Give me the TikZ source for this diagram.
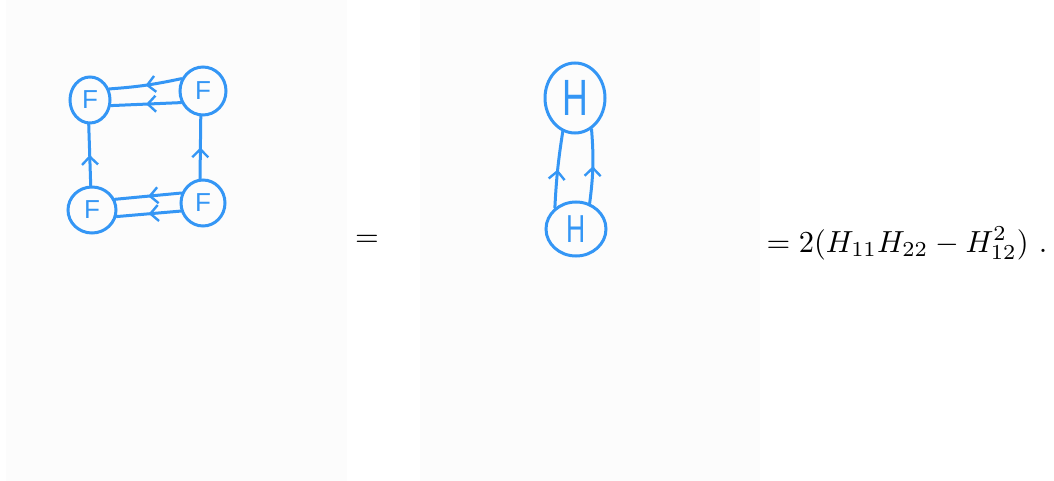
\documentclass[tikz,border=0pt]{standalone}
\usepackage{fontspec}
\newfontfamily\handfont{Liberation Sans}
\usetikzlibrary{shapes.geometric,arrows.meta,decorations.markings}
\definecolor{inkblue}{RGB}{52,150,245}
\definecolor{panelgray}{RGB}{252,252,252}
\begin{document}
\begin{tikzpicture}[x=1pt,y=-1pt,
  ink/.style={draw=inkblue, line width=3pt, line cap=round},
  fnode/.style={ellipse, ink, inner sep=0pt, text=inkblue,
    font=\handfont\fontsize{26}{26}\selectfont},
  hnode/.style={ellipse, ink, inner sep=0pt, text=inkblue},
  wire/.style={ink, postaction={decorate},
    decoration={markings, mark=at position 0.5 with {\arrow[line width=2.4pt]{Straight Barb[length=8pt,width=16pt]}}}},
  eqtext/.style={inner sep=0pt, scale=3.05, transform shape},
]
\useasboundingbox (0,0) rectangle (1054,481);
\fill[white] (0,0) rectangle (1054,481);
\fill[panelgray] (6,0) rectangle (347,481);
\fill[panelgray] (420,0) rectangle (760,481);

% left diagram
\node[fnode, minimum width=40pt, minimum height=46pt] (tl) at (90,100) {F};
\node[fnode, minimum width=46pt, minimum height=48pt] (tr) at (203,91) {F};
\node[fnode, minimum width=48pt, minimum height=46pt] (bl) at (92,210) {F};
\node[fnode, minimum width=44pt, minimum height=46pt] (br) at (203,203) {F};

\draw[wire] (tr.150) to[bend left=4] (tl.30);
\draw[wire] (tr.208) -- (tl.-15);
\draw[wire] (bl.93) -- (tl.267);
\draw[wire] (br.97) -- (tr.265);
\draw[wire] (br.155) -- (bl.25);
\draw[wire] (br.200) -- (bl.-15);

% right diagram
\node[hnode, minimum width=60pt, minimum height=70pt] (ht) at (575,98)
  {\scalebox{0.7}[1]{\handfont\fontsize{51}{51}\selectfont H}};
\node[hnode, minimum width=60pt, minimum height=54pt] (hb) at (576,229)
  {\scalebox{0.68}[1]{\handfont\fontsize{39}{39}\selectfont H}};
\draw[wire] (hb.135) to[bend left=3] (ht.250);
\draw[wire] (hb.62) to[bend right=6] (ht.298);

% equations
\node[eqtext] (eq1) at (367,240.5) {$=$};
\node[eqtext, anchor=base west] (eq2) at (766,252) {$= 2(H_{11}H_{22}-H_{12}^2)\ .$};
\end{tikzpicture}
\end{document}
